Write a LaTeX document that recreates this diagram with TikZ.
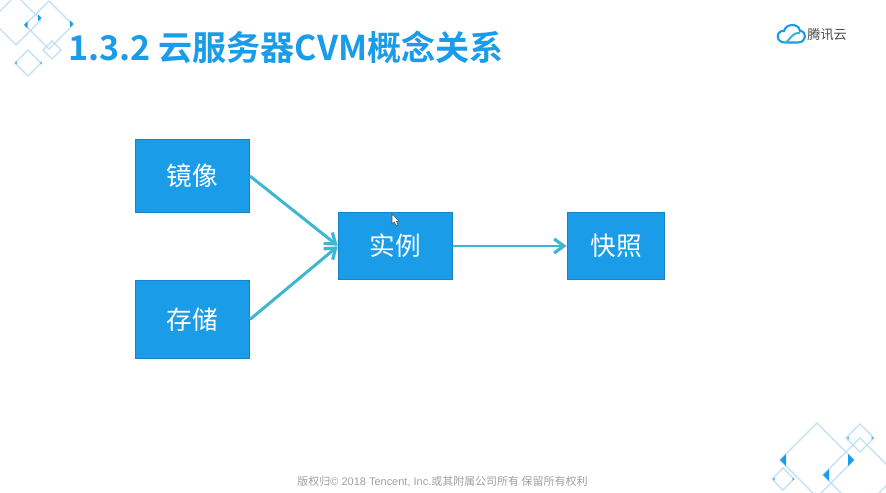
\documentclass[tikz,border=0pt]{standalone}
\usepackage{fontspec}
\usetikzlibrary{arrows.meta}
\setmainfont{Liberation Sans}
\newfontfamily\cjk{Noto Sans CJK SC}
\newfontfamily\cjkbold{Noto Sans CJK SC Bold}
\newcommand{\boxtext}[1]{\raisebox{-0.6pt}{#1}}
\definecolor{boxblue}{HTML}{1B9CE8}
\definecolor{boxedge}{HTML}{1583C6}
\definecolor{arrowteal}{HTML}{3DB6D0}
\definecolor{diamondblue}{HTML}{BFE0F3}
\definecolor{footgray}{HTML}{A0A0A0}
\tikzset{
  conceptbox/.style={draw=boxedge,fill=boxblue,line width=0.5pt,text=white,inner sep=0pt,
    font=\cjk\fontsize{14.6}{16}\selectfont},
  flowline/.style={-{Straight Barb[length=5.5pt,width=8pt,line width=1.8pt]},color=arrowteal,line width=1.7pt,shorten >=0.3pt},
  diamondline/.style={draw=diamondblue,line width=0.7pt}
}
\begin{document}
\begin{tikzpicture}[x=0.02cm,y=-0.02cm]
\clip (0,0) rectangle (886,493);
\fill[white] (0,0) rectangle (886,493);
\foreach \cx/\cy/\rr in {16/20/25,49/25/24,52/50/9,28/63/13,817/460/37,860/475/37,860/438/14,783/479/11}
  \draw[diamondline] (\cx-\rr,\cy) -- (\cx,\cy-\rr) -- (\cx+\rr,\cy) -- (\cx,\cy+\rr) -- cycle;
\foreach \tx/\ty/\dd in {38/18/3.5,27.5/25/-3.5,70/24/3.5,786/460/-6,848/460/6,829/475/-6,16.5/63/-1.5,40.5/63/1.5,774.5/479/-1.5,792.5/479/1.5,848.5/438/-1.5,871.5/438/1.5}
  \fill[boxblue] (\tx,\ty-\dd) -- (\tx+\dd,\ty) -- (\tx,\ty+\dd) -- cycle;
\node[anchor=west,text=boxblue,inner sep=0pt,font=\cjkbold\fontsize{19.4}{22}\selectfont] (title) at (68,47) {1.3.2 云服务器CVM概念关系};
\draw[boxblue,line width=1.2pt] (785,42.5) .. controls (775,42.5) and (776,30) .. (784,31) .. controls (786,23) and (799,23) .. (800,31) .. controls (807,31) and (807,42.5) .. (798,42.5) -- (785,42.5);
\draw[arrowteal,line width=1.2pt] (785,42.5) .. controls (789,42.5) and (791,32) .. (800,33);
\node[anchor=west,text=black!70,inner sep=0pt,font=\cjk\fontsize{7.5}{9}\selectfont] (logo) at (807,35) {腾讯云};
\node[conceptbox,minimum width=2.28cm,minimum height=1.46cm] (mirror) at (192.5,176) {\boxtext{镜像}};
\node[conceptbox,minimum width=2.28cm,minimum height=1.56cm] (storage) at (192.5,319.5) {\boxtext{存储}};
\node[conceptbox,minimum width=2.28cm,minimum height=1.34cm] (instance) at (395.5,246) {\boxtext{实例}};
\node[conceptbox,minimum width=1.94cm,minimum height=1.34cm] (snapshot) at (616,246) {\boxtext{快照}};
\draw[flowline] (mirror.east) -- (instance.west);
\draw[flowline] (storage.east) -- (instance.west);
\draw[flowline] (instance.east) -- (snapshot.west);
\draw[fill=white,draw=black!70,line width=0.3pt] (392,214) -- (392,224) -- (394.5,222) -- (396,226) -- (398,225) -- (396.5,221.5) -- (399,221) -- cycle;
\node[anchor=center,text=footgray,inner sep=0pt,font=\fontsize{6.25}{8}\selectfont] (footer) at (442.5,481.5) {{\cjk 版权归}© 2018 Tencent, Inc.{\cjk 或其附属公司所有 保留所有权利}};
\end{tikzpicture}
\end{document}
